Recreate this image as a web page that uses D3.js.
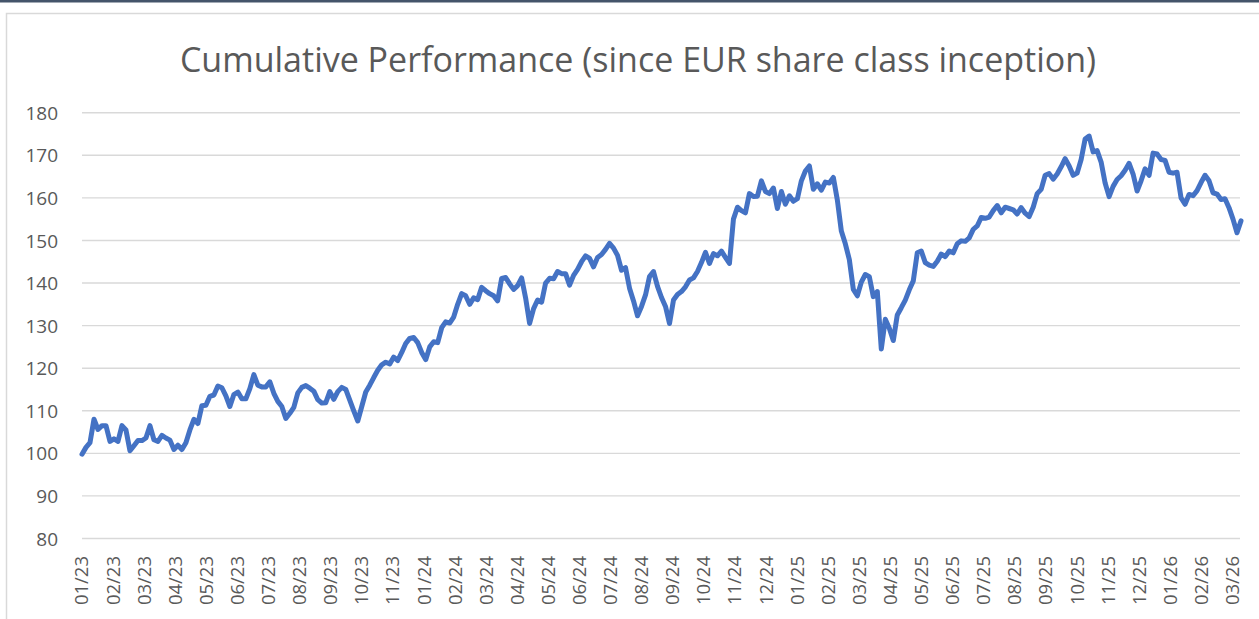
<!DOCTYPE html>
<html>
<head>
<meta charset="utf-8">
<script src="https://cdn.jsdelivr.net/npm/d3@7"></script>
<style>
  body { margin: 0; background: #fff; }
  svg text { font-family: "Open Sans", "Noto Sans", sans-serif; fill: #595959; }
</style>
</head>
<body>
<div class="linechart"></div>
<script>
// month labels shown under the axis (Excel skipped 12/23)
const monthLabels = ["01/23","02/23","03/23","04/23","05/23","06/23","07/23","08/23","09/23","10/23","11/23",
  "01/24","02/24","03/24","04/24","05/24","06/24","07/24","08/24","09/24","10/24","11/24","12/24",
  "01/25","02/25","03/25","04/25","05/25","06/25","07/25","08/25","09/25","10/25","11/25","12/25",
  "01/26","02/26","03/26"];

const yTicks = [80, 90, 100, 110, 120, 130, 140, 150, 160, 170, 180];

// cumulative performance
const performance = [
  99.8,101.4,102.5,108.0,105.6,106.5,106.5,102.8,103.4,102.8,106.5,105.5,100.6,101.8,103.0,103.0,103.6,106.5,103.2,102.8,
  104.2,103.6,103.1,100.9,101.9,100.9,102.5,105.5,108.0,107.0,111.2,111.3,113.4,113.7,115.8,115.4,113.5,111.0,113.8,114.4,
  112.8,112.8,115.2,118.5,116.0,115.6,115.6,116.8,114.1,112.2,111.0,108.2,109.4,110.8,114.2,115.5,115.9,115.3,114.6,112.6,
  111.8,111.9,114.5,112.7,114.5,115.5,115.0,112.5,110.0,107.6,111.0,114.4,116.0,117.8,119.5,120.8,121.4,121.0,122.6,121.8,
  123.7,125.8,127.0,127.2,126.0,123.7,122.0,125.0,126.2,126.0,129.5,130.9,130.6,132.0,135.0,137.5,137.0,135.0,136.5,136.1,
  139.0,138.2,137.5,137.0,135.8,141.1,141.3,139.8,138.5,139.4,141.2,136.5,130.5,134.0,136.0,135.5,140.0,141.1,141.0,142.7,
  142.2,142.2,139.5,141.8,143.2,145.0,146.4,145.8,143.8,146.0,146.7,147.9,149.3,148.2,146.5,143.0,143.6,138.8,135.8,132.3,
  134.5,137.2,141.5,142.7,139.2,136.6,134.5,130.5,136.0,137.3,138.0,139.1,140.7,141.2,142.7,144.8,147.2,144.6,146.9,146.4,
  147.5,146.0,144.6,155.0,157.8,157.0,156.5,161.0,160.3,160.4,164.0,161.5,161.0,162.3,157.5,161.5,158.5,160.5,159.2,159.8,
  164.0,166.3,167.5,162.0,163.3,161.8,163.7,163.5,164.8,159.5,152.2,149.2,145.5,138.5,137.0,140.2,142.0,141.5,136.8,138.0,
  124.5,131.5,129.4,126.5,132.5,134.2,136.0,138.4,140.5,147.1,147.5,144.8,144.2,143.9,145.1,146.8,146.2,147.5,147.1,149.2,
  149.9,149.8,150.6,152.6,153.4,155.4,155.2,155.5,157.0,158.2,156.5,157.8,157.5,157.2,156.2,157.7,156.4,155.6,157.8,161.0,
  162.0,165.3,165.7,164.4,165.6,167.3,169.2,167.5,165.3,165.8,169.0,173.8,174.5,170.8,171.1,168.4,163.5,160.3,162.7,164.3,
  165.2,166.5,168.1,165.6,161.6,164.0,166.8,165.3,170.5,170.3,169.0,168.8,166.0,165.8,166.0,160.0,158.5,160.8,160.5,161.7,
  163.6,165.3,164.0,161.2,160.9,159.6,159.8,157.7,155.0,151.8,154.6
];

const W = 1259, H = 619;
const margin = {top: 113, right: 18, bottom: 80, left: 82};

const svg = d3.select(".linechart")
  .append("svg")
    .attr("width", W)
    .attr("height", H);

// dark strip at the very top and the light chart frame
svg.append("rect")
  .attr("x", 0).attr("y", 0)
  .attr("width", W).attr("height", 2.5)
  .attr("fill", "#44546A");

svg.append("rect")
  .attr("x", 6.5).attr("y", 13.5)
  .attr("width", W + 20).attr("height", H + 20)
  .attr("fill", "#fff")
  .attr("stroke", "#D9D9D9")
  .attr("stroke-width", 1.5);

const x = d3.scaleLinear()
  .domain([0, performance.length - 1])
  .range([margin.left, 1241]);

const y = d3.scaleLinear()
  .domain([80, 180])
  .range([538.5, 112.7]);

// gridlines
svg.append("g")
  .selectAll("line")
  .data(yTicks)
  .enter()
  .append("line")
    .attr("x1", margin.left)
    .attr("x2", 1240)
    .attr("y1", d => y(d))
    .attr("y2", d => y(d))
    .attr("stroke", "#D9D9D9")
    .attr("stroke-width", 1.4);

// Y axis labels
const yAxis = svg.append("g")
  .attr("transform", "translate(58,0)")
  .call(d3.axisLeft(y).tickValues(yTicks).tickSize(0).tickPadding(0));
yAxis.select(".domain").remove();
yAxis.selectAll("text")
  .style("font-size", "19px")
  .attr("dy", "0.35em");

// X axis labels (category labels every few points)
const xLab = d3.scalePoint()
  .domain(monthLabels)
  .range([81.5, 1232]);

const xAxis = svg.append("g")
  .attr("transform", "translate(0,556)")
  .call(d3.axisBottom(xLab).tickSize(0).tickPadding(0));
xAxis.select(".domain").remove();
xAxis.selectAll("text")
  .style("font-size", "18.5px")
  .attr("text-anchor", "end")
  .attr("transform", "rotate(-90)")
  .attr("x", 0)
  .attr("y", 0)
  .attr("dy", "0.35em");

// the line
const line = d3.line()
  .x((d, i) => x(i))
  .y(d => y(d));

svg.append("path")
  .datum(performance)
  .attr("d", line)
  .attr("fill", "none")
  .attr("stroke", "#4472C4")
  .attr("stroke-width", 5)
  .attr("stroke-linejoin", "round")
  .attr("stroke-linecap", "round");

// title
svg.append("text")
  .attr("x", 638)
  .attr("y", 72)
  .attr("text-anchor", "middle")
  .style("font-size", "34px")
  .text("Cumulative Performance (since EUR share class inception)");
</script>
</body>
</html>
